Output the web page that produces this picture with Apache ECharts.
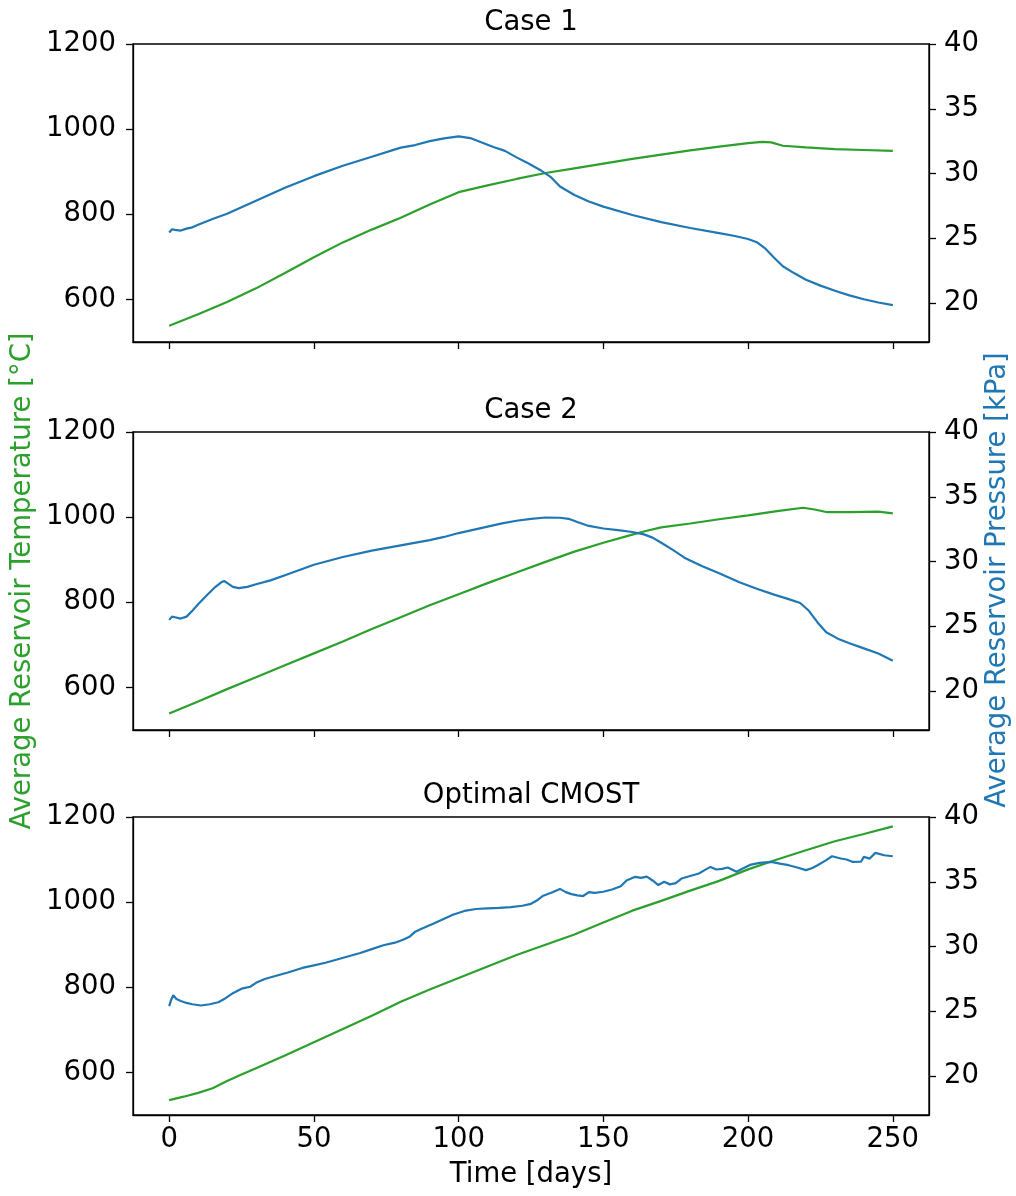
<!DOCTYPE html>
<html>
<head>
<meta charset="utf-8">
<script src="https://cdn.jsdelivr.net/npm/echarts@6/dist/echarts.min.js"></script>
<style>
html,body{margin:0;padding:0;background:#fff;}
#chart{width:1016px;height:1196px;}
</style>
</head>
<body>
<div id="chart"></div>
<script>
// ---------- data ----------
const panelTitles = ["Case 1", "Case 2", "Optimal CMOST"];
const xTicks = [0, 50, 100, 150, 200, 250];
const tempTicks = [600, 800, 1000, 1200];
const presTicks = [20, 25, 30, 35, 40];

const case1TempDays = [0,10,20,30,40,50,60,70,80,90,100,110,120,130,140,150,160,170,180,190,200,205,208,212,220,230,240,250];
const case1Temp     = [538,565,594,626,662,699,734,764,792,823,852,868,883,897,908,919,930,940,950,959,967,970,969,961,957,953,951,949];

const case1PresDays = [0,1,2,4,6,8,10,15,20,30,40,50,60,70,80,85,90,95,100,104,108,112,116,120,124,128,132,135,140,145,150,160,170,180,190,195,200,203,206,209,212,216,220,225,230,235,240,245,250];
const case1Pres     = [25.45,25.7,25.65,25.6,25.75,25.85,26.05,26.5,26.9,27.9,28.9,29.8,30.6,31.3,32.0,32.2,32.5,32.72,32.87,32.74,32.4,32.05,31.75,31.25,30.8,30.3,29.7,29.0,28.35,27.85,27.45,26.8,26.25,25.8,25.4,25.2,24.95,24.7,24.2,23.5,22.85,22.3,21.8,21.35,20.95,20.6,20.3,20.05,19.85];

const case2TempDays = [0,10,20,30,40,50,60,70,80,90,100,110,120,130,140,150,160,165,170,180,190,200,210,219,223,227,235,245,250];
const case2Temp     = [539,567,596,624,652,680,708,737,765,793,819,845,870,895,919,940,959,968,976,985,995,1004,1014,1022,1018,1012,1012,1013,1009];

const case2PresDays = [0,1,2,4,6,8,10,13,16,18,19,20,22,24,27,30,35,40,50,60,70,80,90,95,100,105,110,115,120,125,130,135,138,141,145,150,155,160,164,167,170,174,178,184,190,197,203,209,214,218,221,224,227,231,235,240,245,250];
const case2Pres     = [25.5,25.75,25.7,25.6,25.75,26.2,26.7,27.4,28.05,28.4,28.5,28.35,28.05,27.95,28.05,28.25,28.55,28.95,29.75,30.35,30.85,31.25,31.65,31.9,32.2,32.45,32.7,32.95,33.15,33.3,33.4,33.38,33.3,33.05,32.75,32.55,32.42,32.28,32.1,31.85,31.45,30.9,30.3,29.65,29.1,28.4,27.9,27.45,27.1,26.8,26.2,25.3,24.55,24.05,23.7,23.3,22.9,22.35];

const optTempDays = [0,5,10,15,20,25,30,40,50,60,70,80,90,100,110,120,130,140,150,160,170,180,190,200,210,220,230,240,250];
const optTemp     = [535,543,552,563,580,595,610,640,671,702,733,766,795,822,849,876,900,924,952,980,1003,1027,1050,1077,1100,1122,1143,1160,1178];

const optPresDays = [0,0.7,1.4,2.5,4,6,8,11,14,17,19,22,25,28,30,33,37,41,46,50,54,58,62,66,70,74,78,81,83,85,87,91,95,98,102,106,110,114,118,122,125,127,129,132,135,137,139,141,143,145,147,150,153,156,158,161,163,165,167,169,171,173,175,177,180,183,185,187,189,191,193,196,198,201,204,208,211,214,217,220,222,224,227,229,232,234,236,239,240,242,244,247,250];
const optPres     = [25.4,25.9,26.25,25.95,25.8,25.65,25.55,25.45,25.55,25.7,25.95,26.4,26.75,26.9,27.2,27.5,27.75,28.0,28.35,28.55,28.75,29.0,29.25,29.5,29.8,30.1,30.3,30.55,30.75,31.15,31.35,31.75,32.15,32.45,32.75,32.9,32.95,32.98,33.05,33.15,33.3,33.55,33.9,34.15,34.45,34.2,34.05,33.95,33.9,34.2,34.15,34.23,34.4,34.65,35.1,35.38,35.3,35.4,35.1,34.75,35.0,34.8,34.9,35.25,35.45,35.64,35.9,36.15,35.95,36.0,36.1,35.77,36.0,36.33,36.46,36.54,36.4,36.28,36.1,35.9,36.05,36.28,36.67,36.97,36.8,36.72,36.54,36.55,36.92,36.79,37.23,37.05,36.97];

// ---------- chart ----------
const GREEN = '#2ca02c', BLUE = '#1f77b4';
const FONT = 'DejaVu Sans';
const FS = 27.5;
const plotLeft = 133, plotWidth = 796, plotHeight = 298;
const tops = [44, 432, 817];

const pairs = (xs, ys) => xs.map((x, i) => [x, ys[i]]);
const tempSeries = [pairs(case1TempDays, case1Temp), pairs(case2TempDays, case2Temp), pairs(optTempDays, optTemp)];
const presSeries = [pairs(case1PresDays, case1Pres), pairs(case2PresDays, case2Pres), pairs(optPresDays, optPres)];

const axisLine = {show: true, onZero: false, lineStyle: {color: '#000', width: 1.3}};
const plain = v => String(v);
const grids = [], xAxes = [], yAxes = [], series = [], graphics = [];

for (let i = 0; i < 3; i++) {
  grids.push({left: plotLeft, top: tops[i], width: plotWidth, height: plotHeight,
    show: true, borderColor: '#000', borderWidth: 1.3, backgroundColor: 'transparent', containLabel: false});
  xAxes.push({gridIndex: i, type: 'value', min: -12.5, max: 262.5,
    axisLine: axisLine,
    axisTick: {show: true, customValues: xTicks, length: 7, lineStyle: {color: '#000', width: 1.3}},
    axisLabel: {show: i === 2, customValues: xTicks, formatter: plain, fontSize: FS, fontFamily: FONT, color: '#000', margin: 11},
    splitLine: {show: false}});
  yAxes.push({gridIndex: i, type: 'value', position: 'left', min: 500, max: 1200,
    axisLine: axisLine,
    axisTick: {show: true, customValues: tempTicks, length: 7, lineStyle: {color: '#000', width: 1.3}},
    axisLabel: {customValues: tempTicks, formatter: plain, fontSize: FS, fontFamily: FONT, color: '#000', margin: 17},
    splitLine: {show: false}});
  yAxes.push({gridIndex: i, type: 'value', position: 'right', min: 17, max: 40,
    axisLine: axisLine,
    axisTick: {show: true, customValues: presTicks, length: 7, lineStyle: {color: '#000', width: 1.3}},
    axisLabel: {customValues: presTicks, formatter: plain, fontSize: FS, fontFamily: FONT, color: '#000', margin: 15},
    splitLine: {show: false}});
  series.push({type: 'line', xAxisIndex: i, yAxisIndex: 2 * i, data: tempSeries[i],
    showSymbol: false, smooth: false, lineStyle: {color: GREEN, width: 2.2}, itemStyle: {color: GREEN}, z: 2});
  series.push({type: 'line', xAxisIndex: i, yAxisIndex: 2 * i + 1, data: presSeries[i],
    showSymbol: false, smooth: false, lineStyle: {color: BLUE, width: 2.2}, itemStyle: {color: BLUE}, z: 3});
  graphics.push({type: 'text', x: plotLeft + plotWidth / 2, y: tops[i] - 21,
    style: {text: panelTitles[i], font: FS + 'px "' + FONT + '"', fill: '#000', textAlign: 'center', textVerticalAlign: 'middle'}});
}

graphics.push({type: 'text', x: 23, y: 581, rotation: Math.PI / 2,
  style: {text: 'Average Reservoir Temperature [°C]', font: FS + 'px "' + FONT + '"', fill: GREEN, textAlign: 'center', textVerticalAlign: 'middle'}});
graphics.push({type: 'text', x: 998, y: 580, rotation: Math.PI / 2,
  style: {text: 'Average Reservoir Pressure [kPa]', font: FS + 'px "' + FONT + '"', fill: BLUE, textAlign: 'center', textVerticalAlign: 'middle'}});
graphics.push({type: 'text', x: plotLeft + plotWidth / 2, y: 1175,
  style: {text: 'Time [days]', font: FS + 'px "' + FONT + '"', fill: '#000', textAlign: 'center', textVerticalAlign: 'middle'}});

const chart = echarts.init(document.getElementById('chart'), null, {renderer: 'canvas'});
chart.setOption({
  animation: false,
  backgroundColor: '#fff',
  grid: grids,
  xAxis: xAxes,
  yAxis: yAxes,
  series: series,
  graphic: graphics
});
</script>
</body>
</html>
